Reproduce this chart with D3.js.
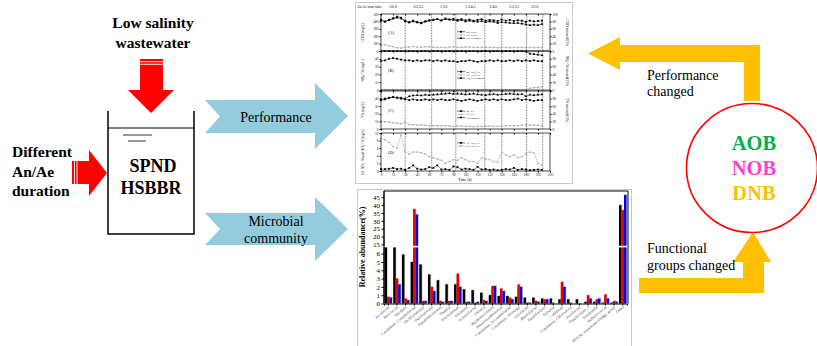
<!DOCTYPE html>
<html>
<head>
<meta charset="utf-8">
<script src="https://cdn.jsdelivr.net/npm/d3@7"></script>
<style>
  body { margin: 0; background: #fff; }
  svg { display: block; font-family: "Liberation Serif", "Times New Roman", serif; }
</style>
</head>
<body>
<svg id="Viz"></svg>
<script>
// ---- reactor performance (top figure), one value every 5 days ----
var days = [0,5,10,15,20,25,30,35,40,45,50,55,60,65,70,75,80,85,90,95,100,105,110,115,120,125,130,135,140,145,150,155,160,165,170,175,180,185,190,195,200];
var infCOD = [410,395,420,440,465,450,400,385,410,395,375,400,415,420,430,410,440,425,435,420,430,415,425,410,420,430,410,420,415,405,425,410,420,405,415,410,395,410,400,405,410];
var effCOD = [80,85,70,60,45,40,50,55,60,55,50,58,55,52,48,50,45,52,55,50,48,52,55,50,48,50,52,50,48,45,50,48,45,47,50,48,45,47,45,48,46];
var codRemoval = [85,80,84,88,90,88,82,78,80,77,76,80,82,84,86,83,86,85,84,82,84,80,82,80,79,81,78,80,79,76,78,77,76,75,76,74,72,70,71,70,73];
var infNH4 = [37,38,40,41,40,39,38,38,37,38,37,38,38,37,38,37,38,37,37,36,37,37,38,37,36,37,37,38,37,38,37,37,38,37,38,37,38,37,38,37,37];
var effNH4 = [0.3,0.2,0.2,0.3,0.2,0.2,0.3,0.2,0.2,0.2,0.2,0.3,0.2,0.2,0.2,0.3,0.2,0.2,0.2,0.2,0.3,0.2,0.2,0.2,0.2,0.2,0.3,0.2,0.2,0.2,0.2,0.3,0.2,0.2,0.2,0.2,0.5,2.5,3.0,3.5,4.0];
var nh4Removal = [99.2,99.5,99.5,99.3,99.5,99.5,99.2,99.5,99.5,99.5,99.5,99.2,99.5,99.5,99.5,99.2,99.5,99.5,99.5,99.4,99.2,99.5,99.5,99.5,99.4,99.5,99.2,99.5,99.5,99.5,99.5,99.2,99.5,99.5,99.5,99.5,98.7,93.3,92.0,90.6,89.2];
var infTN = [38,39,41,42,41,40,39,38,39,38,38,39,38,39,38,39,38,38,39,38,37,38,39,38,37,38,39,38,39,38,39,38,38,39,40,38,39,38,37,38,38];
var effTN = [10,9.5,9,8,7.5,7,9,6,5.5,5,5.5,5,4.5,4.5,4,4,4.5,4,3.5,4,4,3.5,3.5,3,3.5,3.5,4,4,3.5,3.5,4,4,4.5,4,4.5,5,5.5,5,5.5,5,4.5];
var tnRemoval = [78,80,82,84,83,82,80,86,88,89,88,90,89,90,91,92,93,94,92,93,92,91,92,93,91,90,89,91,92,90,91,92,93,92,91,92,86,90,89,90,91];
var effNO2 = [0.5,0.5,0.6,0.8,0.5,0.6,0.3,0.8,1.5,0.6,0.4,0.5,1.0,0.8,1.5,0.4,0.5,0.3,1.2,1.0,0.4,0.6,0.5,0.3,1.1,0.4,0.5,0.3,0.4,0.2,0.3,0.5,0.4,0.8,0.3,0.5,0.4,0.2,0.3,0.4,0.3];
var effNO3 = [8.5,8.2,7.5,6.5,6.0,9.5,5.0,4.5,5.0,5.0,4.8,4.5,3.8,3.5,3.2,2.8,2.0,2.5,3.0,2.8,3.5,3.0,2.5,2.5,2.0,3.5,3.2,3.0,2.5,2.3,5.0,4.2,3.8,4.2,3.5,3.8,4.5,5.0,4.8,2.0,1.6];
var phaseBounds = [0,30,63,93,129,150,181,201];
var ratios = ["0/6.0","0.5/5.5","1/5.0","1.5/4.5","2/4.0","2.5/3.5","3/3.0"];
var dayTicks = [0,15,30,45,60,75,90,105,120,135,150,165,180,195,210];

// ---- microbial community (bottom figure) ----
var genera = ["Arcobacter","Paracoccus","Thiothrix","Candidatus_Competibacter","Dechloromonas","Denitratisoma",
  "Pseudofulvimonas","Thauera","Nitrosomonas","Nitrospira","Acinetobacter","Ottowia","Hyphomicrobium",
  "Pseudoxanthomonas","Candidatus_Accumulibacter","Candidatus_Nitrotoga","Lysobacter","Rhodobacter",
  "Desulfovibrio","Azospira","Caldilinea","Candidatus_Chloroploca","Nitrobacter","Simplicispira_1",
  "Dokdonella","Defluviicoccus","BSV26_wastewater-sludge_group","Other"];
var abund1 = [6.9,6.9,5.9,5.0,4.7,3.5,2.8,2.3,2.3,1.7,1.6,1.3,1.0,0.9,0.9,0.8,0.7,0.7,0.6,0.6,0.5,0.5,0.5,0.2,0.2,0.1,0.1,40.0];
var abund2 = [0.8,3.0,0.6,37.5,0.3,2.0,0.3,0.3,3.6,0.2,0.1,0.4,2.1,1.8,0.7,2.3,0.1,0.3,0.5,0.1,2.6,0.1,0.0,1.0,0.5,1.1,0.3,36.8];
var abund3 = [0.7,2.3,0.4,34.0,0.3,1.5,0.2,0.3,2.0,0.2,0.2,0.3,2.1,1.5,0.5,2.0,0.1,0.2,0.5,0.0,2.0,0.0,0.0,0.6,0.6,0.6,0.2,46.5];
var lowTicks = [0,1,2,3,4,5,6];
var highTicks = [15,20,25,30,35,40,45];

var width = 817, height = 346;
var svg = d3.select("#Viz").attr("width", width).attr("height", height);

// ================= schematic =================
var red = "#ff0000", sky = "#93cddd", amber = "#ffc000";

function bold(x, y, s, size, anchor, fill) {
  svg.append("text").attr("x", x).attr("y", y).attr("font-size", size).attr("font-weight", "bold")
    .attr("text-anchor", anchor || "middle").attr("fill", fill || "#000").text(s);
}
function plain(x, y, s, size, anchor) {
  svg.append("text").attr("x", x).attr("y", y).attr("font-size", size)
    .attr("text-anchor", anchor || "middle").attr("fill", "#000").text(s);
}

bold(153, 28, "Low salinity", 15.5);
bold(153, 48, "wastewater", 15.5);
// down arrow
svg.append("rect").attr("x", 140).attr("y", 59).attr("width", 23).attr("height", 31).attr("fill", red);
svg.append("path").attr("d", "M128,90L174,90L151,113Z").attr("fill", red);
svg.append("rect").attr("x", 140).attr("y", 61.3).attr("width", 23).attr("height", 0.9).attr("fill", "#fff");
svg.append("rect").attr("x", 140).attr("y", 63.8).attr("width", 23).attr("height", 0.9).attr("fill", "#fff");

// reactor
svg.append("path").attr("d", "M108,111V234H194V111").attr("fill", "none").attr("stroke", "#000").attr("stroke-width", 1.5);
svg.append("line").attr("x1", 108).attr("x2", 194).attr("y1", 128).attr("y2", 128).attr("stroke", "#000").attr("stroke-width", 1);
svg.append("line").attr("x1", 123).attr("x2", 152).attr("y1", 135).attr("y2", 135).attr("stroke", "#000").attr("stroke-width", 0.8);
svg.append("line").attr("x1", 128).attr("x2", 146).attr("y1", 141).attr("y2", 141).attr("stroke", "#000").attr("stroke-width", 0.8);
bold(153, 172, "SPND", 18);
bold(151, 194, "HSBBR", 18);

bold(12, 157, "Different", 15.5, "start");
bold(12, 177, "An/Ae", 15.5, "start");
bold(12, 196, "duration", 15.5, "start");
// right arrow
svg.append("rect").attr("x", 72).attr("y", 161).attr("width", 17).attr("height", 23).attr("fill", red);
svg.append("path").attr("d", "M89,150L89,196L107,173Z").attr("fill", red);
svg.append("rect").attr("x", 74).attr("y", 161).attr("width", 0.9).attr("height", 23).attr("fill", "#fff");
svg.append("rect").attr("x", 76.6).attr("y", 161).attr("width", 0.9).attr("height", 23).attr("fill", "#fff");

// blue chevrons
svg.append("path").attr("d", "M205,100L315,100L315,83L348,116L315,149L315,133L205,133L220,116.5Z").attr("fill", sky);
svg.append("path").attr("d", "M205,213L315,213L315,197L348,229L315,261L315,245L205,245L220,229Z").attr("fill", sky);
plain(276, 122, "Performance", 14);
plain(276, 226, "Microbial", 14);
plain(276, 243, "community", 14);

// amber arrows
svg.append("path").attr("d", "M760,101L744,101L744,62L620,62L620,70L588,53.5L620,37L620,45L760,45Z").attr("fill", amber);
svg.append("path").attr("d", "M639,278L743,278L743,262L733,262L753,232L771,262L764,262L764,293L639,293Z").attr("fill", amber);
plain(647, 80, "Performance", 14, "start");
plain(647, 96, "changed", 14, "start");
plain(647, 253, "Functional", 14, "start");
plain(647, 270, "groups changed", 14, "start");

svg.append("ellipse").attr("cx", 752).attr("cy", 168).attr("rx", 65.5).attr("ry", 64.5)
  .attr("fill", "#fff").attr("stroke", red).attr("stroke-width", 1.6);
bold(754, 150, "AOB", 20.5, "middle", "#00b050");
bold(754, 175, "NOB", 20.5, "middle", "#ff3fcc");
bold(754, 200, "DNB", 20.5, "middle", amber);

// ================= top figure =================
svg.append("rect").attr("x", 355.5).attr("y", 2.5).attr("width", 217).attr("height", 181)
  .attr("fill", "#fff").attr("stroke", "#c8c8c8").attr("stroke-width", 1);

var tx = d3.scaleLinear().domain([0, 210]).range([381, 550]);
var perf = svg.append("g").attr("font-size", 3.6);

perf.append("text").attr("x", 357).attr("y", 8).text("An/Ae hour ratio");
perf.selectAll(".ratio").data(ratios).enter().append("text")
  .attr("x", function(d, i) { return tx((phaseBounds[i] + phaseBounds[i + 1]) / 2); })
  .attr("y", 8).attr("text-anchor", "middle").text(function(d) { return d; });

var panels = [
  {tag: "(A)", y0: 14, y1: 51, max: 500, left: "COD (mg/L)", right: "COD removal (%)", leg: 0.48,
   series: [{v: infCOD, kind: "sq", name: "Inf. COD"}, {v: effCOD, kind: "gray", name: "Eff. COD"},
            {v: codRemoval, kind: "tri", r: true, name: "COD removal"}]},
  {tag: "(B)", y0: 51, y1: 90, max: 50, left: "NH\u2084\u207A-N (mg/L)", right: "NH\u2084\u207A-N removal (%)", leg: 0.53,
   series: [{v: infNH4, kind: "sq", name: "Inf. NH\u2084\u207A-N"}, {v: effNH4, kind: "gray", name: "Eff. NH\u2084\u207A-N"},
            {v: nh4Removal, kind: "tri", r: true, name: "NH\u2084\u207A-N removal"}]},
  {tag: "(C)", y0: 91, y1: 129, max: 50, left: "TN (mg/L)", right: "TN removal (%)", leg: 0.53,
   series: [{v: infTN, kind: "sq", name: "Inf. TN"}, {v: effTN, kind: "gray", name: "Eff. TN"},
            {v: tnRemoval, kind: "tri", r: true, name: "TN removal"}]},
  {tag: "(D)", y0: 133, y1: 171, max: 10, left: "Eff NO\u2082\u207B-N and NO\u2083\u207B-N (mg/L)", leg: 0.26,
   series: [{v: effNO2, kind: "sq", name: "Eff. NO\u2082\u207B-N"}, {v: effNO3, kind: "gray", name: "Eff. NO\u2083\u207B-N"}]}
];

function marker(g, kind, cx, cy) {
  if (kind === "sq") g.append("rect").attr("x", cx - 0.9).attr("y", cy - 0.9).attr("width", 1.8).attr("height", 1.8).attr("fill", "#000");
  else if (kind === "tri") g.append("path").attr("transform", "translate(" + cx + "," + cy + ")")
    .attr("d", d3.symbol(d3.symbolTriangle, 3.2)()).attr("fill", "#000");
  else g.append("circle").attr("cx", cx).attr("cy", cy).attr("r", 0.85).attr("fill", "#a8a8a8");
}

panels.forEach(function(p, pi) {
  var g = perf.append("g");
  var y = d3.scaleLinear().domain([0, p.max]).range([p.y1, p.y0]);
  var yr = d3.scaleLinear().domain([0, 100]).range([p.y1, p.y0]);
  // panels B and C touch the one above, so their top tick label is left out
  var shared = (pi === 1 || pi === 2);

  // phase separators
  g.selectAll(".ph").data(phaseBounds.slice(1)).enter().append("line")
    .attr("x1", function(d) { return tx(d); }).attr("x2", function(d) { return tx(d); })
    .attr("y1", p.y0).attr("y2", p.y1)
    .attr("stroke", "#000").attr("stroke-width", 0.6).attr("stroke-dasharray", "0.8,0.8");

  p.series.forEach(function(s) {
    var sy = s.r ? yr : y;
    var col = s.kind === "gray" ? "#a8a8a8" : "#000";
    var line = d3.line().x(function(d, i) { return tx(days[i]); }).y(function(d) { return sy(d); });
    g.append("path").attr("d", line(s.v)).attr("fill", "none").attr("stroke", col).attr("stroke-width", 0.5);
    s.v.forEach(function(d, i) { marker(g, s.kind, tx(days[i]), sy(d)); });
  });

  // legend
  p.series.forEach(function(s, i) {
    var ly = p.y0 + (p.y1 - p.y0) * p.leg + i * 3.2;
    var col = s.kind === "gray" ? "#a8a8a8" : "#000";
    g.append("line").attr("x1", 457).attr("x2", 465).attr("y1", ly).attr("y2", ly).attr("stroke", col).attr("stroke-width", 0.6);
    marker(g, s.kind, 461, ly);
    g.append("text").attr("x", 466).attr("y", ly + 1).attr("font-size", 2.8).text(s.name);
  });

  g.append("text").attr("x", 388).attr("y", p.y0 + (p.y1 - p.y0) * 0.55).attr("font-size", 4.2).text(p.tag);

  g.append("rect").attr("x", tx(0)).attr("y", p.y0).attr("width", tx(210) - tx(0)).attr("height", p.y1 - p.y0)
    .attr("fill", "none").attr("stroke", "#000").attr("stroke-width", 0.7);

  var la = g.append("g").attr("transform", "translate(" + tx(0) + ",0)")
    .call(d3.axisLeft(y).ticks(5).tickSize(1.5).tickPadding(1));
  la.select(".domain").remove();
  la.selectAll("text").attr("font-size", 3.4).attr("font-family", "Liberation Serif");
  if (shared) la.selectAll(".tick").filter(function(d) { return d === p.max; }).select("text").remove();
  g.append("text").attr("transform", "translate(364," + (p.y0 + p.y1) / 2 + ") rotate(-90)")
    .attr("text-anchor", "middle").attr("font-size", 3.6).text(p.left);

  if (p.right) {
    var ra = g.append("g").attr("transform", "translate(" + tx(210) + ",0)")
      .call(d3.axisRight(yr).ticks(5).tickSize(1.5).tickPadding(1));
    ra.select(".domain").remove();
    ra.selectAll("text").attr("font-size", 3.4).attr("font-family", "Liberation Serif");
    if (shared) ra.selectAll(".tick").filter(function(d) { return d === 100; }).select("text").remove();
    g.append("text").attr("transform", "translate(566," + (p.y0 + p.y1) / 2 + ") rotate(90)")
      .attr("text-anchor", "middle").attr("font-size", 3.6).text(p.right);
  }

  var ba = g.append("g").attr("transform", "translate(0," + p.y1 + ")")
    .call(d3.axisBottom(tx).tickValues(dayTicks).tickSize(1.5).tickPadding(1));
  ba.select(".domain").remove();
  ba.selectAll("text").attr("font-size", 3.4).attr("font-family", "Liberation Serif");
  if (pi < panels.length - 1) ba.selectAll("text").remove();
  var ta = g.append("g").attr("transform", "translate(0," + p.y0 + ")")
    .call(d3.axisBottom(tx).tickValues(dayTicks).tickSize(1.5));
  ta.select(".domain").remove();
  ta.selectAll("text").remove();
});
perf.append("text").attr("x", 465).attr("y", 181).attr("text-anchor", "middle").attr("font-size", 3.8).text("Time (d)");

// ================= bottom figure =================
svg.append("rect").attr("x", 357.5).attr("y", 189.5).attr("width", 274).attr("height", 170)
  .attr("fill", "#fff").attr("stroke", "#c8c8c8").attr("stroke-width", 1);

var bx = d3.scaleBand().domain(genera).range([384, 627]).paddingInner(0.14).paddingOuter(0.06);
var bs = d3.scaleBand().domain([0, 1, 2]).range([0, bx.bandwidth()]);
var lowMax = 6.8, highMin = 14;
var yLow = d3.scaleLinear().domain([0, lowMax]).range([303.5, 247]);
var yHigh = d3.scaleLinear().domain([highMin, 49]).range([246, 191]);
var barColors = ["#000000", "#e60000", "#0000e6"];

var flat = [];
[abund1, abund2, abund3].forEach(function(arr, k) {
  arr.forEach(function(v, i) { flat.push({g: genera[i], k: k, v: v}); });
});

var bars = svg.append("g");
function seg(d) {
  var out = [[yLow(Math.min(d.v, lowMax)), yLow(0)]];
  if (d.v > highMin) out.push([yHigh(d.v), yHigh(highMin)]);
  return out;
}
flat.forEach(function(d) {
  var x0 = bx(d.g) + bs(d.k), w = bs.bandwidth();
  seg(d).forEach(function(s) {
    if (s[1] - s[0] <= 0) return;
    bars.append("rect").attr("x", x0 + 0.7).attr("y", s[0] - 0.7).attr("width", w).attr("height", s[1] - s[0])
      .attr("fill", "#c4c4c4");
  });
});
flat.forEach(function(d) {
  var x0 = bx(d.g) + bs(d.k), w = bs.bandwidth();
  seg(d).forEach(function(s) {
    if (s[1] - s[0] <= 0) return;
    bars.append("rect").attr("x", x0).attr("y", s[0]).attr("width", w).attr("height", s[1] - s[0])
      .attr("fill", barColors[d.k]);
  });
});
// axis break
svg.append("rect").attr("x", 383).attr("y", 245.8).attr("width", 245).attr("height", 1.6).attr("fill", "#fff");

// frame
svg.append("path").attr("d", "M384,303.5V191H628V303.5").attr("fill", "none").attr("stroke", "#000").attr("stroke-width", 1);

var yl = svg.append("g").attr("transform", "translate(384,0)")
  .call(d3.axisLeft(yLow).tickValues(lowTicks).tickFormat(d3.format("d")).tickSize(2.5).tickPadding(1.5));
yl.select(".domain").attr("d", "M0,303.5V247");
var yh = svg.append("g").attr("transform", "translate(384,0)")
  .call(d3.axisLeft(yHigh).tickValues(highTicks).tickSize(2.5).tickPadding(1.5));
yh.select(".domain").attr("d", "M0,246V191");
yl.selectAll("text").attr("font-size", 7).attr("font-family", "Liberation Serif");
yh.selectAll("text").attr("font-size", 7).attr("font-family", "Liberation Serif");

var xa = svg.append("g").attr("transform", "translate(0,303.5)")
  .call(d3.axisBottom(bx).tickSize(2).tickFormat(""));
xa.selectAll(".tick text").remove();
svg.append("g").selectAll("text").data(genera).enter().append("text")
  .attr("transform", function(d) { return "translate(" + (bx(d) + bx.bandwidth() / 2 + 1.5) + ",307.5) rotate(-40)"; })
  .attr("text-anchor", "end").attr("font-size", 4).attr("fill", "#444").text(function(d) { return d; });

svg.append("text").attr("transform", "translate(365,247) rotate(-90)").attr("text-anchor", "middle")
  .attr("font-size", 8).attr("font-weight", "bold").text("Relative abundance(%)");
</script>
</body>
</html>
